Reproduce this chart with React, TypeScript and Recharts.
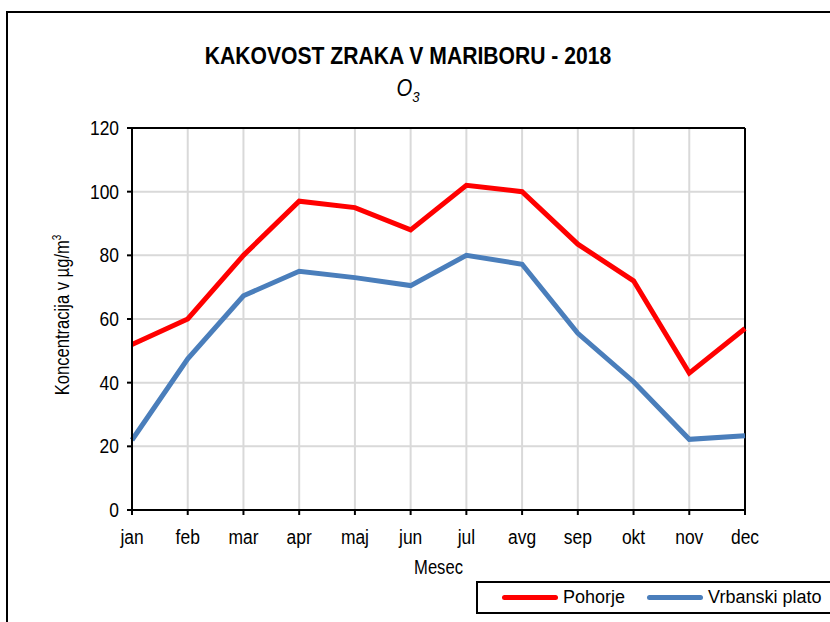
import React from "react";
import {
  CartesianGrid,
  Line,
  LineChart,
  ReferenceLine,
  XAxis,
  YAxis,
} from "recharts";

const months = ["jan", "feb", "mar", "apr", "maj", "jun", "jul", "avg", "sep", "okt", "nov", "dec"];
const pohorje = [52, 60, 80, 97, 95, 88, 102, 100, 83.5, 72, 43, 57];
const vrbanskiPlato = [22, 47.5, 67.3, 75, 73, 70.5, 80, 77.2, 55.5, 40.3, 22.2, 23.3];
const yTicks = [0, 20, 40, 60, 80, 100, 120];

const seriesInfo = [
  { key: "pohorje", name: "Pohorje", color: "#ff0000" },
  { key: "vrbanski", name: "Vrbanski plato", color: "#4a7ebb" },
];

const data = months.map((m, i) => ({ month: m, pohorje: pohorje[i], vrbanski: vrbanskiPlato[i] }));

const FONT = '"Liberation Sans", Arial, sans-serif';
const SQUEEZE = 0.83;

function XTick({ x, y, payload }: any) {
  return (
    <text
      transform={`translate(${x} ${y + 27}) scale(${SQUEEZE} 1)`}
      textAnchor="middle"
      fontFamily={FONT}
      fontSize={21}
      fill="#000"
    >
      {payload.value}
    </text>
  );
}

function YTick({ x, y, payload }: any) {
  return (
    <text
      transform={`translate(${x - 6} ${y + 7}) scale(${SQUEEZE} 1)`}
      textAnchor="end"
      fontFamily={FONT}
      fontSize={21}
      fill="#000"
    >
      {payload.value}
    </text>
  );
}

function YLabel({ viewBox }: any) {
  const cx = 62;
  const cy = viewBox ? viewBox.y + viewBox.height / 2 - 4 : 315;
  return (
    <text
      transform={`translate(${cx + 7} ${cy}) rotate(-90) scale(${SQUEEZE} 1)`}
      textAnchor="middle"
      fontFamily={FONT}
      fontSize={20}
      fill="#000"
    >
      Koncentracija v µg/m
      <tspan dy={-8} fontSize={12}>3</tspan>
    </text>
  );
}

function XLabel({ viewBox }: any) {
  const cx = viewBox ? viewBox.x + viewBox.width / 2 : 418;
  const cy = 574;
  return (
    <text
      transform={`translate(${cx} ${cy}) scale(${SQUEEZE} 1)`}
      textAnchor="middle"
      fontFamily={FONT}
      fontSize={20}
      fill="#000"
    >
      Mesec
    </text>
  );
}

function LegendBox() {
  return (
    <div
      style={{
        position: "absolute",
        left: 476,
        top: 581,
        width: 380,
        height: 33,
        display: "flex",
        alignItems: "center",
        border: "2px solid #000",
        background: "#fff",
        fontFamily: FONT,
        fontSize: 18,
        paddingLeft: 24,
        boxSizing: "border-box",
      }}
    >
      {seriesInfo.map((s) => (
        <div key={s.key} style={{ display: "flex", alignItems: "center", marginRight: 22 }}>
          <span
            style={{
              display: "inline-block",
              width: 56,
              height: 5,
              borderRadius: 3,
              background: s.color,
              marginRight: 5,
            }}
          />
          <span>{s.name}</span>
        </div>
      ))}
    </div>
  );
}

export default function App() {
  return (
    <div style={{ position: "absolute", left: 0, top: 0, width: 830, height: 622, overflow: "hidden", background: "#fff" }}>
      <div
        style={{
          position: "absolute",
          left: 6,
          top: 11,
          width: 900,
          height: 700,
          border: "2px solid #000",
        }}
      />
      <div
        style={{
          position: "absolute",
          left: 0,
          width: 816,
          top: 41,
          textAlign: "center",
          fontFamily: FONT,
          fontWeight: 700,
          fontSize: 24,
          lineHeight: "30px",
          transform: "scaleX(0.88)",
        }}
      >
        KAKOVOST ZRAKA V MARIBORU - 2018
      </div>
      <div
        style={{
          position: "absolute",
          left: 0,
          width: 816,
          top: 73,
          textAlign: "center",
          fontFamily: FONT,
          fontStyle: "italic",
          fontSize: 23,
          lineHeight: "30px",
          transform: "scaleX(0.88)",
        }}
      >
        O<sub style={{ fontSize: 15 }}>3</sub>
      </div>
      <div style={{ position: "absolute", left: 0, top: 0 }}>
        <LineChart
          width={830}
          height={622}
          data={data}
          margin={{ top: 128, right: 85, left: 72, bottom: 82 }}
        >
          <CartesianGrid stroke="#d9d9d9" strokeWidth={2} />
          <XAxis
            dataKey="month"
            tick={<XTick />}
            tickLine={{ stroke: "#000", strokeWidth: 2 }}
            axisLine={{ stroke: "#000", strokeWidth: 2 }}
            tickSize={5}
            height={30}
            interval={0}
            label={<XLabel />}
          />
          <YAxis
            domain={[0, 120]}
            ticks={yTicks}
            tick={<YTick />}
            tickLine={{ stroke: "#000", strokeWidth: 2 }}
            axisLine={{ stroke: "#000", strokeWidth: 2 }}
            tickSize={5}
            width={60}
            label={<YLabel />}
          />
          <ReferenceLine y={120} stroke="#000" strokeWidth={2} />
          <ReferenceLine x="dec" stroke="#000" strokeWidth={2} />
          {seriesInfo.map((s) => (
            <Line
              key={s.key}
              type="linear"
              dataKey={s.key}
              name={s.name}
              stroke={s.color}
              strokeWidth={5}
              dot={false}
              isAnimationActive={false}
            />
          ))}
        </LineChart>
      </div>
      <LegendBox />
    </div>
  );
}
